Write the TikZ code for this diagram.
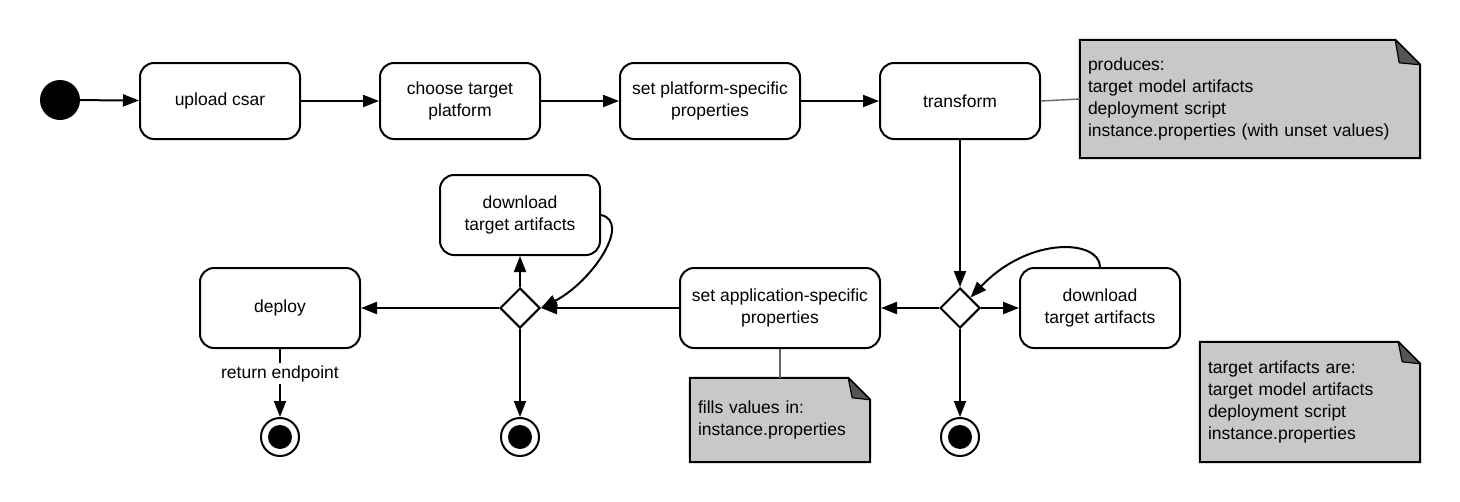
\documentclass[tikz,border=0pt]{standalone}
\usepackage{fontspec}
\setmainfont{Liberation Sans}
\usetikzlibrary{shapes.geometric,arrows.meta,backgrounds}
\definecolor{notegray}{HTML}{C8C8C8}
\definecolor{folddark}{HTML}{555555}
\definecolor{linkgray}{HTML}{666666}
\newcommand\drawnote[4]{%
  \begin{scope}[on background layer]
    \filldraw[fill=notegray,line width=2pt,line join=miter]
      (#1.north west) -- ([xshift=-#2pt]#1.north east) -- ([yshift=-#2pt]#1.north east)
      -- (#1.south east) -- (#1.south west) -- cycle;
    \filldraw[fill=folddark,line width=1.2pt,line join=round]
      ([xshift=-#2pt]#1.north east) -- ([yshift=-#2pt]#1.north east)
      -- ([xshift=-#3pt,yshift=-#4pt]#1.north east) -- cycle;
  \end{scope}}
\begin{document}
\begin{tikzpicture}[x=1pt,y=-1pt,
  every node/.style={font=\fontsize{17.5}{22}\selectfont},
  act/.style={draw,line width=2pt,rounded corners=14pt,minimum height=80pt,minimum width=160pt,align=center,inner sep=0pt},
  ln/.style={line width=2pt},
  arr/.style={ln,-{Triangle[length=16pt,width=12pt]}},
  dec/.style={draw,diamond,line width=2pt,minimum width=40pt,minimum height=40pt,inner sep=0pt,fill=white},
  startnode/.style={circle,fill=black,minimum size=40pt,inner sep=0pt},
  final/.style={circle,draw,line width=2pt,minimum size=38pt,inner sep=0pt,
    path picture={\fill (path picture bounding box.center) circle (12pt);}},
  note/.style={align=left,inner sep=8pt},
  notelink/.style={draw=linkgray,line width=1.4pt},
]
\useasboundingbox (0,0) rectangle (1460,501);

% top row
\node[startnode] (start) at (60,100) {};
\node[act,minimum height=76pt] (upload) at (220,101) {upload csar};
\node[act,minimum height=76pt] (choose) at (460,101) {choose target\\platform};
\node[act,minimum height=76pt,minimum width=180pt] (platform) at (710,101) {set platform-specific\\properties};
\node[act,minimum height=76pt] (transform) at (960,101) {transform};

\node[note,text width=324pt,minimum height=118pt] (n1) at (1250,99)
  {produces:\\target model artifacts\\deployment script\\instance.properties (with unset values)};
\drawnote{n1}{25}{21}{23}

% lower row
\node[dec] (dia2) at (960,308) {};
\node[act] (dl2) at (1100,308) {download\\target artifacts};
\node[final] (fin3) at (960,437) {};
\node[act,minimum width=200pt] (appl) at (780,308) {set application-specific\\properties};
\node[note,text width=164pt,minimum height=84pt] (n2) at (780,420)
  {fills values in:\\instance.properties};
\drawnote{n2}{22}{18}{20}
\node[dec] (dia1) at (520,308) {};
\node[act] (dl1) at (520,215) {download\\target artifacts};
\node[final] (fin2) at (520,437) {};
\node[act] (deploy) at (280,308) {deploy};
\node[final] (fin1) at (280,437) {};

\node[note,text width=204pt,minimum height=120pt] (n3) at (1310,402)
  {target artifacts are:\\target model artifacts\\deployment script\\instance.properties};
\drawnote{n3}{22}{18}{20}

% connectors
\draw[arr] (start) -- (upload);
\draw[arr] (upload) -- (choose);
\draw[arr] (choose) -- (platform);
\draw[arr] (platform) -- (transform);
\draw[notelink] (transform.east) -- (n1.west);
\draw[arr] (transform.south) -- (dia2.north);
\draw[arr] (dia2.east) -- (dl2.west);
\draw[arr] (dl2.north) .. controls (1100,240) and (1030,235) .. (dia2.north east);
\draw[arr] (dia2.south) -- (fin3.north);
\draw[arr] (dia2.west) -- (appl.east);
\draw[notelink] (appl.south) -- (n2.north);
\draw[arr] (appl.west) -- (dia1.east);
\draw[arr] (dia1.north) -- (dl1.south);
\draw[arr] (dl1.east) .. controls (632,222) and (592,282) .. (dia1.east);
\draw[arr] (dia1.south) -- (fin2.north);
\draw[arr] (dia1.west) -- (deploy.east);
\draw[arr] (deploy.south) -- node[pos=0.36,fill=white,inner sep=2pt] {return endpoint} (fin1.north);
\end{tikzpicture}
\end{document}
